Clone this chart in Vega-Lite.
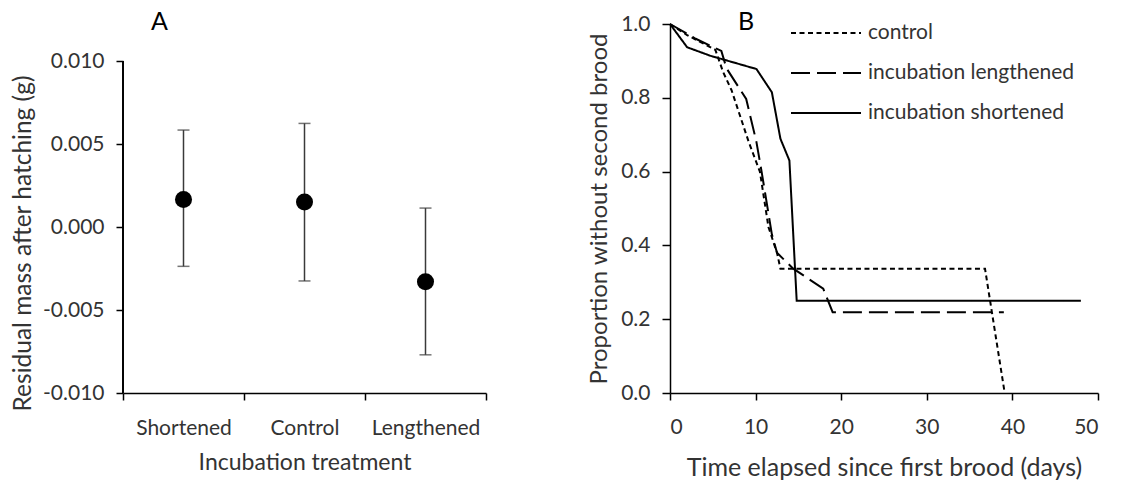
{
  "$schema": "https://vega.github.io/schema/vega-lite/v6.json",
  "background": "white",
  "padding": {"left": 10, "top": 10, "right": 5, "bottom": 0},
  "config": {
    "font": "Lato",
    "view": {"stroke": null},
    "concat": {"spacing": 100},
    "axis": {
      "domainColor": "#000000", "domainWidth": 1.5, "tickColor": "#000000", "tickWidth": 1.5, "tickSize": 7,
      "labelFont": "Lato", "labelFontSize": 21, "labelColor": "#333333",
      "titleFont": "Lato", "titleFontSize": 23, "titleFontWeight": "normal", "titleColor": "#333333",
      "grid": false
    },
    "title": {"font": "Lato", "fontSize": 25, "fontWeight": "normal", "color": "#000000", "anchor": "start", "frame": "group"},
    "legend": {"symbolStrokeColor": "#000000"}
  },
  "hconcat": [
    {
      "width": 363,
      "height": 369,
      "title": {"text": "A", "dx": 28, "offset": -11},
      "data": {"values": [
        {"t": "Shortened", "m": 0.00166, "lo": -0.00237, "hi": 0.00584},
        {"t": "Control", "m": 0.0015, "lo": -0.00325, "hi": 0.00624},
        {"t": "Lengthened", "m": -0.0033, "lo": -0.0077, "hi": 0.00114}
      ]},
      "encoding": {
        "x": {"field": "t", "type": "nominal", "sort": null, "title": "Incubation treatment",
          "scale": {"paddingInner": 0, "paddingOuter": 0},
          "axis": {"labelAngle": 0, "tickBand": "extent", "labelPadding": 17, "titlePadding": 13}}
      },
      "layer": [
        {"mark": {"type": "rule", "color": "#3a3a3a", "strokeWidth": 1.5},
          "encoding": {
            "y": {"field": "lo", "type": "quantitative", "scale": {"domain": [-0.01, 0.012229], "nice": false},
              "title": "Residual mass after hatching (g)",
              "axis": {"values": [-0.01, -0.005, 0, 0.005, 0.01], "format": ".3f", "labelExpr": "replace(datum.label, '\u2212', '-')", "domain": false, "labelPadding": 12, "titlePadding": 7, "titleY": 219, "titleFontSize": 24.5}},
            "y2": {"field": "hi"}
          }},
        {"mark": {"type": "rule", "color": "#000000", "strokeWidth": 1.5},
          "encoding": {
            "x": {"datum": "Shortened", "type": "nominal", "bandPosition": 0},
            "y": {"datum": -0.01, "type": "quantitative"},
            "y2": {"datum": 0.01}
          }},
        {"mark": {"type": "tick", "color": "#3a3a3a", "thickness": 1.5, "size": 12, "orient": "horizontal"},
          "encoding": {"y": {"field": "lo", "type": "quantitative"}}},
        {"mark": {"type": "tick", "color": "#3a3a3a", "thickness": 1.5, "size": 12, "orient": "horizontal"},
          "encoding": {"y": {"field": "hi", "type": "quantitative"}}},
        {"mark": {"type": "circle", "color": "#000000", "opacity": 1, "size": 290},
          "encoding": {"y": {"field": "m", "type": "quantitative"}}}
      ]
    },
    {
      "width": 428,
      "height": 369,
      "title": {"text": "B", "dx": 68, "offset": -22},
      "data": {"values": [
        {"g": "control", "d": 0, "p": 1.0},
        {"g": "control", "d": 2, "p": 0.97},
        {"g": "control", "d": 5.3, "p": 0.93},
        {"g": "control", "d": 6.2, "p": 0.87},
        {"g": "control", "d": 7.2, "p": 0.82},
        {"g": "control", "d": 8.2, "p": 0.75},
        {"g": "control", "d": 9.2, "p": 0.68},
        {"g": "control", "d": 10.5, "p": 0.6},
        {"g": "control", "d": 11.5, "p": 0.45},
        {"g": "control", "d": 12.5, "p": 0.38},
        {"g": "control", "d": 12.9, "p": 0.337},
        {"g": "control", "d": 36.8, "p": 0.337},
        {"g": "control", "d": 39.1, "p": 0.0},
        {"g": "incubation lengthened", "d": 0, "p": 1.0},
        {"g": "incubation lengthened", "d": 3, "p": 0.96},
        {"g": "incubation lengthened", "d": 6, "p": 0.927},
        {"g": "incubation lengthened", "d": 6.6, "p": 0.88},
        {"g": "incubation lengthened", "d": 8.9, "p": 0.797},
        {"g": "incubation lengthened", "d": 10.1, "p": 0.68},
        {"g": "incubation lengthened", "d": 10.7, "p": 0.6},
        {"g": "incubation lengthened", "d": 11.9, "p": 0.43},
        {"g": "incubation lengthened", "d": 12.5, "p": 0.38},
        {"g": "incubation lengthened", "d": 14.4, "p": 0.337},
        {"g": "incubation lengthened", "d": 17.9, "p": 0.283},
        {"g": "incubation lengthened", "d": 19.0, "p": 0.219},
        {"g": "incubation lengthened", "d": 39.0, "p": 0.219},
        {"g": "incubation shortened", "d": 0, "p": 1.0},
        {"g": "incubation shortened", "d": 2, "p": 0.937},
        {"g": "incubation shortened", "d": 4.7, "p": 0.914},
        {"g": "incubation shortened", "d": 10.1, "p": 0.878},
        {"g": "incubation shortened", "d": 11.9, "p": 0.815},
        {"g": "incubation shortened", "d": 12.9, "p": 0.689},
        {"g": "incubation shortened", "d": 13.95, "p": 0.63},
        {"g": "incubation shortened", "d": 14.8, "p": 0.25},
        {"g": "incubation shortened", "d": 48.0, "p": 0.25}
      ]},
      "mark": {"type": "line", "color": "#000000", "strokeWidth": 2},
      "encoding": {
        "x": {"field": "d", "type": "quantitative", "scale": {"domain": [0, 50], "nice": false},
          "title": "Time elapsed since first brood (days)",
          "axis": {"values": [0, 10, 20, 30, 40, 50], "labelPadding": 16, "titlePadding": 18, "titleFontSize": 25}},
        "y": {"field": "p", "type": "quantitative", "scale": {"domain": [0, 1], "nice": false},
          "title": "Proportion without second brood",
          "axis": {"values": [0, 0.2, 0.4, 0.6, 0.8, 1.0], "format": ".1f", "tickSize": 8, "labelPadding": 12, "titlePadding": 9, "titleFontSize": 24}},
        "strokeDash": {"field": "g", "type": "nominal",
          "scale": {"domain": ["control", "incubation lengthened", "incubation shortened"], "range": [[5, 3.5], [19, 7], [1, 0]]},
          "legend": {"title": null, "orient": "none", "legendX": 667, "legendY": -6,
            "symbolType": "stroke", "symbolSize": 4900, "symbolStrokeWidth": 2, "symbolStrokeColor": "#000000",
            "labelFontSize": 21, "labelColor": "#333333", "labelOffset": 6, "labelLimit": 400, "clipHeight": 30, "rowPadding": 10}}
      }
    }
  ]
}
